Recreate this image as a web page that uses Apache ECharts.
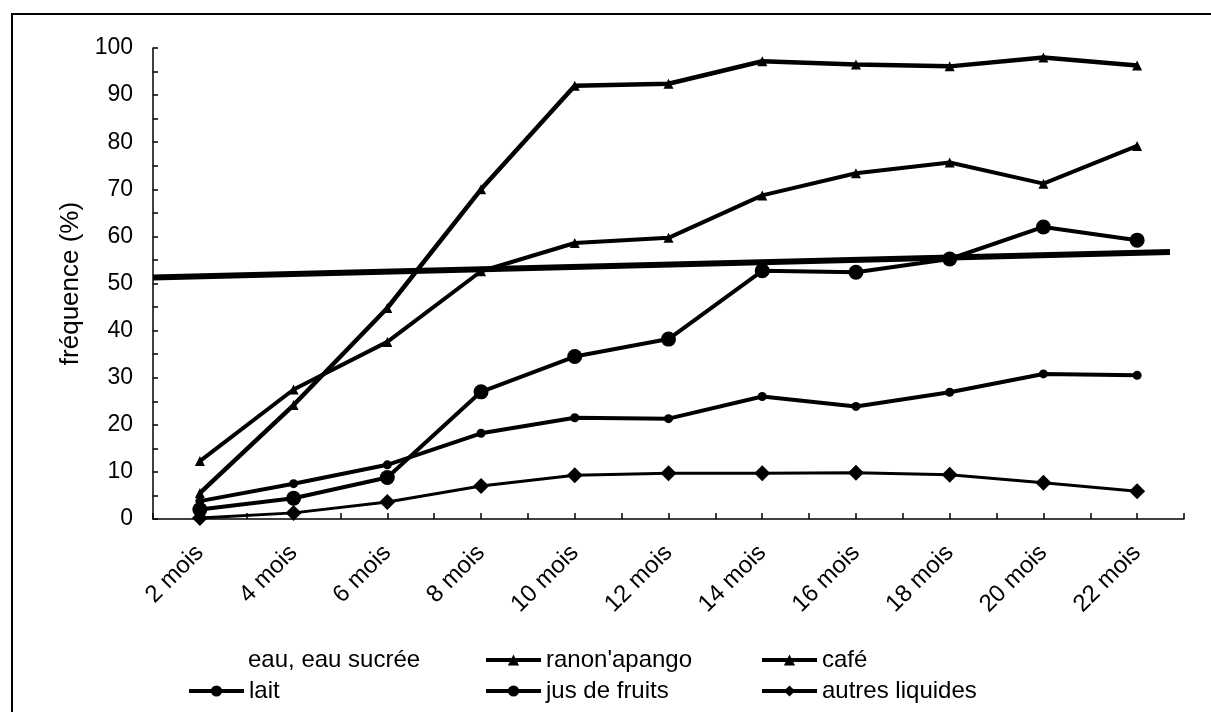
<!DOCTYPE html>
<html>
<head>
<meta charset="utf-8">
<script src="https://cdn.jsdelivr.net/npm/echarts@6/dist/echarts.min.js"></script>
<style>
html,body{margin:0;padding:0;background:#fff;}
#c{width:1211px;height:712px;}
</style>
</head>
<body>
<div id="c"></div>
<script>
// ---- data ----
var months = [2, 4, 6, 8, 10, 12, 14, 16, 18, 20, 22];
var categories = ['2 mois','4 mois','6 mois','8 mois','10 mois','12 mois','14 mois','16 mois','18 mois','20 mois','22 mois'];
var seriesNames = ["eau, eau sucrée", "ranon'apango", "café", "lait", "jus de fruits", "autres liquides"];
var ranonApango = [5.5, 24.2, 44.8, 70.0, 92.0, 92.4, 97.2, 96.5, 96.1, 98.0, 96.3];
var cafe = [12.3, 27.5, 37.6, 52.6, 58.6, 59.7, 68.7, 73.4, 75.7, 71.2, 79.2];
var lait = [3.8, 7.5, 11.5, 18.2, 21.5, 21.3, 26.0, 23.9, 26.9, 30.8, 30.5];
var jusDeFruits = [2.0, 4.4, 8.8, 27.0, 34.5, 38.2, 52.7, 52.4, 55.2, 62.0, 59.2];
var autresLiquides = [0.2, 1.3, 3.6, 7.0, 9.3, 9.7, 9.7, 9.8, 9.4, 7.7, 5.9];
// "eau, eau sucrée" appears only as a straight line (start, end)
var eauX = [1, 22.7];
var eauY = [51.3, 56.7];
var yTicks = [0, 10, 20, 30, 40, 50, 60, 70, 80, 90, 100];

function pairs(xs, ys){ return xs.map(function(x,i){ return [x, ys[i]]; }); }

var FONT = 'Liberation Sans, Arial, sans-serif';
var chart = echarts.init(document.getElementById('c'), null, {renderer:'canvas'});

function lineSeries(name, data, symbol, symbolSize, width){
  return {
    name: name, type: 'line', data: pairs(months, data),
    symbol: symbol, symbolSize: symbolSize,
    itemStyle: {color:'#000'},
    lineStyle: {color:'#000', width: width},
    animation: false, z: 3
  };
}

function legendAt(name, left, top, extra){
  var d = {name: name, lineStyle: {width: 4}};
  if (extra) { for (var k in extra) d[k] = extra[k]; }
  return {
    data: [d], left: left, top: top, orient: 'horizontal',
    itemWidth: 55, itemHeight: 14, itemGap: 0,
    textStyle: {fontFamily: FONT, fontSize: 24, color: '#000'},
    selectedMode: false, padding: 0
  };
}

chart.setOption({
  backgroundColor: '#fff',
  animation: false,
  grid: {left: 153, right: 27, top: 48, bottom: 193, containLabel: false},
  graphic: [{
    type: 'rect', shape: {x: 12, y: 14, width: 1300, height: 800},
    style: {fill: 'none', stroke: '#000', lineWidth: 2}, silent: true
  }],
  legend: [
    legendAt(seriesNames[0], 187, 648, {itemStyle:{opacity:0}, lineStyle:{opacity:0}}),
    legendAt(seriesNames[1], 484, 648),
    legendAt(seriesNames[2], 760, 648),
    legendAt(seriesNames[3], 187, 679),
    legendAt(seriesNames[4], 484, 679),
    legendAt(seriesNames[5], 760, 679)
  ],
  xAxis: {
    type: 'value', min: 1, max: 23, interval: 1,
    axisLine: {show: true, lineStyle: {color: '#000', width: 1.5}},
    axisTick: {show: true, inside: true, length: 6, lineStyle: {color: '#000', width: 1.5}},
    splitLine: {show: false},
    axisLabel: {
      rotate: 45, margin: 30, fontFamily: FONT, fontSize: 24, color: '#000',
      showMinLabel: true, showMaxLabel: true,
      formatter: function(v){ var i = months.indexOf(v); return i >= 0 ? categories[i] : ''; }
    }
  },
  yAxis: {
    type: 'value', min: yTicks[0], max: yTicks[yTicks.length-1], interval: 10,
    name: 'fréquence (%)', nameLocation: 'middle', nameGap: 66, nameRotate: 90,
    nameTextStyle: {fontFamily: FONT, fontSize: 26, color: '#000'},
    axisLine: {show: true, lineStyle: {color: '#000', width: 1.5}},
    axisTick: {show: true, inside: true, length: 5, lineStyle: {color: '#000', width: 1.5}},
    minorTick: {show: true, splitNumber: 2, length: 5, lineStyle: {color: '#000', width: 1.5}},
    splitLine: {show: false},
    axisLabel: {margin: 20, fontFamily: FONT, fontSize: 23, color: '#000'}
  },
  series: [
    {
      name: seriesNames[0], type: 'line', data: pairs(eauX, eauY),
      symbol: 'none', itemStyle: {color: '#000'},
      lineStyle: {color: '#000', width: 6}, z: 4, animation: false
    },
    lineSeries(seriesNames[1], ranonApango, 'triangle', 10, 4.5),
    lineSeries(seriesNames[2], cafe, 'triangle', 10, 4),
    lineSeries(seriesNames[3], lait, 'circle', 9, 4),
    lineSeries(seriesNames[4], jusDeFruits, 'circle', 15, 4),
    lineSeries(seriesNames[5], autresLiquides, 'diamond', 16, 3)
  ]
});
</script>
</body>
</html>
